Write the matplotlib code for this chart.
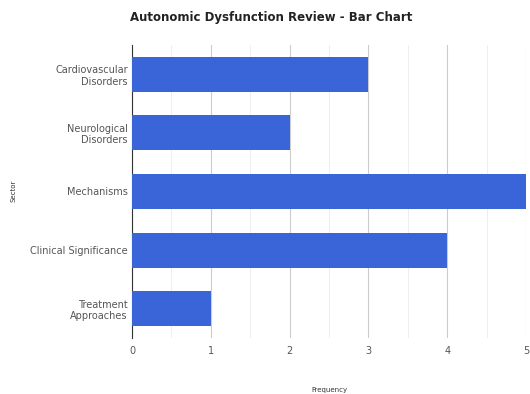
import matplotlib.pyplot as plt
import numpy as np

# Данные для графика
sectors = ["Cardiovascular\nDisorders", "Neurological\nDisorders", "Mechanisms",
           "Clinical Significance", "Treatment\nApproaches"]
frequency = [3, 2, 5, 4, 1]

fig = plt.figure(figsize=(5.3, 3.94), dpi=100)
ax = fig.add_axes([0.249, 0.142, 0.7435, 0.744])

y = np.arange(len(sectors))
ax.barh(y, frequency, height=0.6, color="#3a65d8", zorder=3)

ax.set_ylim(len(sectors) - 0.5, -0.5)
ax.set_xlim(0, 5)
ax.set_yticks(y)
ax.set_yticklabels(sectors, fontsize=7, color="#555555")
ax.set_xticks(range(6))
ax.set_xticklabels([str(i) for i in range(6)], fontsize=7, color="#555555")
ax.set_xticks(np.arange(0.5, 5, 0.5), minor=True)

# Сетка
ax.grid(axis="x", which="major", color="#cccccc", linewidth=0.8, zorder=0)
ax.grid(axis="x", which="minor", color="#ebebeb", linewidth=0.6, zorder=0)
ax.tick_params(axis="y", which="both", length=0, pad=3)
ax.tick_params(axis="x", which="both", length=0, pad=6)

for side in ["top", "right", "bottom"]:
    ax.spines[side].set_visible(False)
ax.spines["left"].set_color("#333333")
ax.spines["left"].set_linewidth(0.8)

# Заголовок и подписи осей
fig.text(0.512, 0.955, "Autonomic Dysfunction Review - Bar Chart", ha="center", va="center",
         fontsize=8.5, fontweight="bold", color="#222222")
fig.text(0.621, 0.01, "Frequency", ha="center", va="center", fontsize=5, color="#333333")
fig.text(0.025, 0.515, "Sector", ha="center", va="center", rotation=90,
         fontsize=5, color="#333333")

fig.savefig("out.png", dpi=100)
